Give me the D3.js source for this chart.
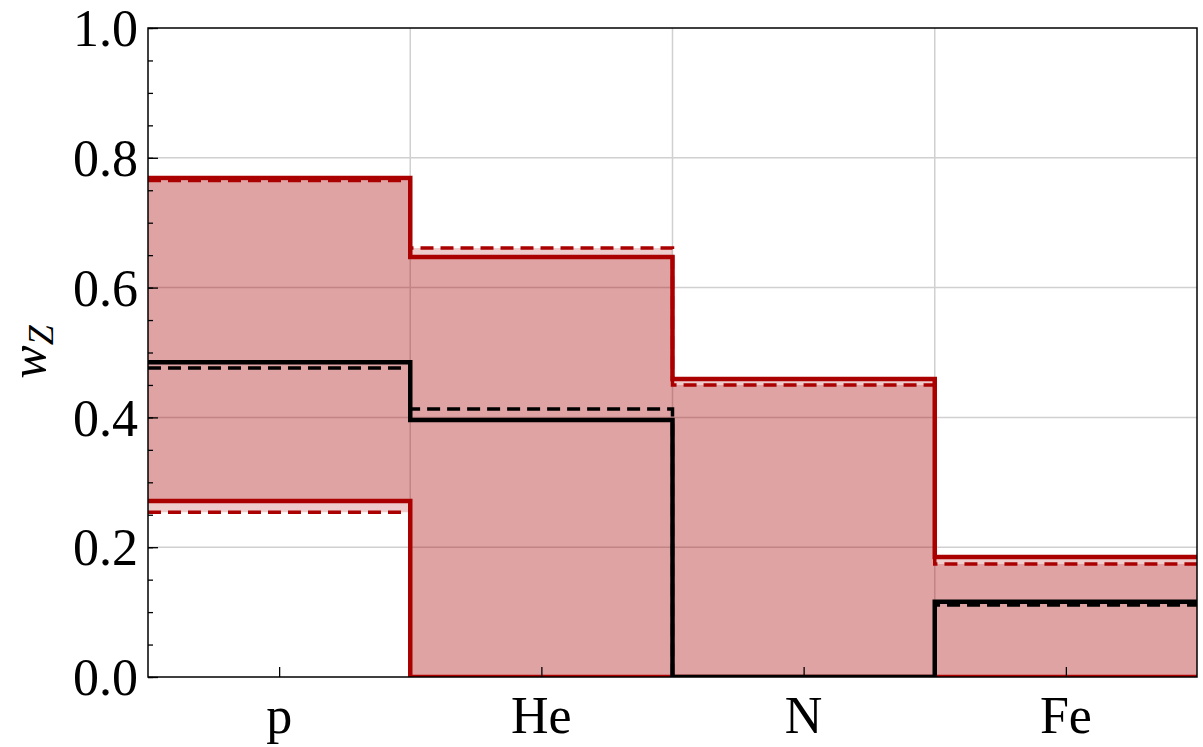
<!DOCTYPE html>
<html>
<head>
<meta charset="utf-8">
<script src="https://cdn.jsdelivr.net/npm/d3@7"></script>
<style>
  body { margin: 0; background: #fff; }
</style>
</head>
<body>
<div id="chart"></div>
<script>
// categories (bins) and the step values per bin
var species = ["p", "He", "N", "Fe"];
var upperSolid = [0.769, 0.647, 0.459, 0.185];
var lowerSolid = [0.271, 0.0, 0.0, 0.0];
var upperDashed = [0.765, 0.661, 0.450, 0.174];
var lowerDashed = [0.254, 0.0, 0.0, 0.0];
var centralSolid = [0.485, 0.396, 0.0, 0.116];
var centralDashed = [0.476, 0.413, 0.0, 0.111];
var yTicks = [0.0, 0.2, 0.4, 0.6, 0.8, 1.0];

var W = 1203, H = 747;
var margin = {top: 28, right: 6, bottom: 70, left: 148};
var red = "#aa0000";
var serif = "'Liberation Serif', 'DejaVu Serif', serif";

var svg = d3.select("#chart").append("svg")
    .attr("width", W)
    .attr("height", H);

var x = d3.scaleLinear()
    .domain([0, species.length])
    .range([margin.left, W - margin.right]);

var y = d3.scaleLinear()
    .domain([0, 1])
    .range([H - margin.bottom, margin.top]);

// clip marks to the axes box, like matplotlib
svg.append("clipPath").attr("id", "plotclip")
  .append("rect")
    .attr("x", x(0)).attr("y", y(1))
    .attr("width", x(species.length) - x(0))
    .attr("height", y(0) - y(1));

var plot = svg.append("g").attr("clip-path", "url(#plotclip)");

// step points: each bin gives two points (left edge, right edge)
function steps(vals) {
  var pts = [];
  vals.forEach(function(v, i) {
    pts.push([i, v]);
    pts.push([i + 1, v]);
  });
  return pts;
}
function bandSteps(lo, hi) {
  var pts = [];
  lo.forEach(function(v, i) {
    pts.push({x: i, lo: lo[i], hi: hi[i]});
    pts.push({x: i + 1, lo: lo[i], hi: hi[i]});
  });
  return pts;
}

// grid
plot.selectAll(".gy").data(yTicks.slice(1, -1)).enter().append("line")
    .attr("x1", x(0)).attr("x2", x(species.length))
    .attr("y1", function(d) { return y(d); })
    .attr("y2", function(d) { return y(d); })
    .attr("stroke", "#d0d0d0").attr("stroke-width", 1.5);
plot.selectAll(".gx").data(d3.range(1, species.length)).enter().append("line")
    .attr("x1", function(d) { return x(d); })
    .attr("x2", function(d) { return x(d); })
    .attr("y1", y(0)).attr("y2", y(1))
    .attr("stroke", "#d0d0d0").attr("stroke-width", 1.5);

// fills
var area = d3.area()
    .x(function(d) { return x(d.x); })
    .y0(function(d) { return y(d.lo); })
    .y1(function(d) { return y(d.hi); });

plot.append("path")
    .datum(bandSteps(lowerDashed, upperDashed))
    .attr("fill", red).attr("fill-opacity", 0.2)
    .attr("d", area);
plot.append("path")
    .datum(bandSteps(lowerSolid, upperSolid))
    .attr("fill", red).attr("fill-opacity", 0.2)
    .attr("d", area);

// step lines
var line = d3.line()
    .x(function(d) { return x(d[0]); })
    .y(function(d) { return y(d[1]); });

function drawStep(vals, color, dashed) {
  plot.append("path")
      .datum(steps(vals))
      .attr("fill", "none")
      .attr("stroke", color)
      .attr("stroke-width", dashed ? 3.5 : 4.5)
      .attr("stroke-dasharray", dashed ? "13,7" : null)
      .attr("stroke-linejoin", "miter")
      .attr("d", line);
}
drawStep(upperSolid, red, false);
drawStep(lowerSolid, red, false);
drawStep(upperDashed, red, true);
drawStep(lowerDashed, red, true);
drawStep(centralSolid, "#000", false);
drawStep(centralDashed, "#000", true);

// frame
svg.append("rect")
    .attr("x", x(0)).attr("y", y(1))
    .attr("width", x(species.length) - x(0))
    .attr("height", y(0) - y(1))
    .attr("fill", "none").attr("stroke", "#000").attr("stroke-width", 1.5);

// y axis: inward ticks, major every 0.2, minor every 0.05
var yAxis = svg.append("g")
    .attr("transform", "translate(" + x(0) + ",0)")
    .call(d3.axisRight(y).tickValues(yTicks).tickSize(10).tickFormat(""));
var yMinor = svg.append("g")
    .attr("transform", "translate(" + x(0) + ",0)")
    .call(d3.axisRight(y).tickValues(d3.range(0, 1.001, 0.05)).tickSize(5).tickFormat(""));
[yAxis, yMinor].forEach(function(g) {
  g.select(".domain").remove();
  g.selectAll(".tick line").attr("stroke", "#000").attr("stroke-width", 1.3);
});

svg.append("g").selectAll("text").data(yTicks).enter().append("text")
    .attr("x", x(0) - 10)
    .attr("y", function(d) { return y(d); })
    .attr("dy", "0.35em")
    .attr("text-anchor", "end")
    .attr("font-family", serif)
    .attr("font-size", 52)
    .text(function(d) { return d.toFixed(1); });

// x axis: ticks at bin centres
var xAxis = svg.append("g")
    .attr("transform", "translate(0," + y(0) + ")")
    .call(d3.axisTop(x).tickValues(species.map(function(s, i) { return i + 0.5; }))
      .tickSize(10).tickFormat(""));
xAxis.select(".domain").remove();
xAxis.selectAll(".tick line").attr("stroke", "#000").attr("stroke-width", 1.3);

svg.append("g").selectAll("text").data(species).enter().append("text")
    .attr("x", function(d, i) { return x(i + 0.5); })
    .attr("y", y(0) + 56)
    .attr("text-anchor", "middle")
    .attr("font-family", serif)
    .attr("font-size", 52)
    .text(function(d) { return d; });

// y label
var yl = svg.append("text")
    .attr("transform", "translate(45,352) rotate(-90)")
    .attr("text-anchor", "middle")
    .attr("font-family", serif)
    .attr("font-size", 50)
    .attr("font-style", "italic");
yl.append("tspan").text("w");
yl.append("tspan").attr("font-size", 36).attr("dy", 8).text("Z");
</script>
</body>
</html>
